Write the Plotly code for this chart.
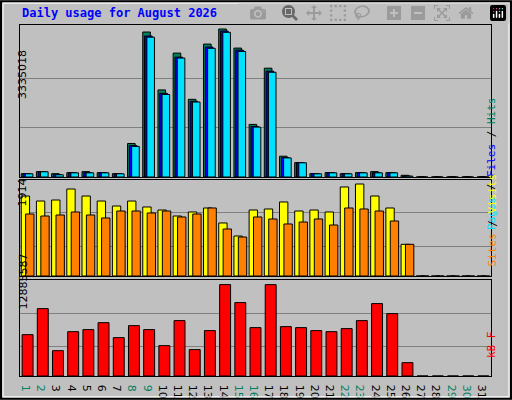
import plotly.graph_objects as go

days = list(range(1, 32))
hits = [75000, 121000, 75000, 98000, 121000, 98000, 75000, 755000, 3267000, 1962000,
        2792000, 1750000, 2995000, 3335018, 2905000, 1185000, 2452000, 468000, 324000, 75000,
        98000, 75000, 98000, 121000, 98000, 38000, 0, 0, 0, 0, 0]
files = [75000, 121000, 53000, 98000, 98000, 98000, 75000, 709000, 3177000, 1886000,
         2701000, 1705000, 2928000, 3290000, 2860000, 1139000, 2384000, 438000, 324000, 75000,
         98000, 75000, 98000, 98000, 98000, 23000, 0, 0, 0, 0, 0]
pages = [72000, 118000, 50000, 94000, 94000, 94000, 72000, 690000, 3150000, 1860000,
         2680000, 1690000, 2900000, 3260000, 2830000, 1125000, 2360000, 430000, 320000, 72000,
         94000, 72000, 94000, 94000, 94000, 20000, 0, 0, 0, 0, 0]
visits = [1664, 1560, 1581, 1810, 1664, 1560, 1456, 1560, 1436, 1373,
          1248, 1332, 1415, 1103, 832, 1373, 1394, 1540, 1352, 1373,
          1332, 1852, 1914, 1664, 1415, 659, 0, 0, 0, 0, 0]
sites = [1290, 1248, 1269, 1332, 1269, 1207, 1352, 1352, 1311, 1352,
         1228, 1290, 1415, 978, 811, 1228, 1186, 1082, 1123, 1186,
         1061, 1415, 1394, 1352, 1144, 659, 0, 0, 0, 0, 0]
kbytes = [5830000, 9500000, 3570000, 6250000, 6540000, 7520000, 5410000, 7100000, 6540000, 4280000,
          7810000, 3720000, 6400000, 12885587, 10350000, 6820000, 12880000, 6960000, 6820000, 6400000,
          6250000, 6680000, 7810000, 10210000, 8790000, 1880000, 0, 0, 0, 0, 0]
weekend = [1, 2, 8, 9, 15, 16, 22, 23, 29, 30]

max_hits, max_visits, max_kb = 3335018, 1914, 12885587

fig = go.Figure()
line = dict(color="black", width=1)

def bar(y, color, off, w, ax):
    fig.add_trace(go.Bar(x=days, y=y, marker=dict(color=color, line=line),
                         offset=off, width=w, xaxis="x" + ax, yaxis="y" + ax,
                         showlegend=False, hoverinfo="y"))

bar(hits, "#00805C", -0.42, 0.5, "")
bar(files, "#0000FF", -0.3, 0.5, "")
bar(pages, "#00E0FF", -0.15, 0.5, "")
bar(visits, "#FFFF00", -0.42, 0.55, "2")
bar(sites, "#FF8000", -0.13, 0.55, "2")
bar(kbytes, "#FF0000", -0.36, 0.72, "3")

xd = [20 / 512, 491 / 512]
ticktext = ["<span style='color:%s'>%d</span>" % ("#008060" if d in weekend else "black", d) for d in days]
xbase = dict(range=[0.5, 31.5], domain=xd, showline=True, linecolor="black", mirror=True,
             showgrid=False, zeroline=False, fixedrange=True)
ybase = dict(showline=True, linecolor="black", mirror=True, gridcolor="#808080",
             zeroline=False, showticklabels=False, ticks="")

fig.update_layout(
    width=512, height=400, margin=dict(l=0, r=0, t=0, b=0, autoexpand=False),
    paper_bgcolor="#C0C0C0", plot_bgcolor="#C0C0C0", barmode="overlay",
    font=dict(family="DejaVu Sans Mono", size=11, color="black"),
    xaxis=dict(xbase, anchor="y", showticklabels=False),
    xaxis2=dict(xbase, anchor="y2", showticklabels=False),
    xaxis3=dict(xbase, anchor="y3", tickvals=days, ticktext=ticktext, ticks="",
                tickfont=dict(family="DejaVu Sans", size=11)),
    yaxis=dict(ybase, domain=[0.5575, 0.9375], range=[0, max_hits * 152 / 148],
               tickvals=[max_hits / 3, max_hits * 2 / 3]),
    yaxis2=dict(ybase, domain=[0.31, 0.55], range=[0, max_visits * 96 / 92],
                tickvals=[max_visits * 0.326, max_visits * 0.685]),
    yaxis3=dict(ybase, domain=[0.06, 0.30], range=[0, max_kb * 96 / 91.4],
                tickvals=[max_kb * 0.32, max_kb * 0.68]),
)

ann = [
    dict(text="<b>Daily usage for August 2026</b>", x=20 / 512, y=1 - 13 / 400, xanchor="left",
         yanchor="middle", font=dict(color="#0000FF", size=12)),
    dict(text=str(max_hits), x=14 / 512, y=1 - 48 / 400, textangle=-90,
         font=dict(family="DejaVu Sans", size=11)),
    dict(text=str(max_visits), x=14 / 512, y=1 - 193 / 400, textangle=-90,
         font=dict(family="DejaVu Sans", size=11)),
    dict(text=str(max_kb), x=14 / 512, y=1 - 312 / 400, textangle=-90,
         font=dict(family="DejaVu Sans", size=11)),
    dict(text="<span style='color:#00E0FF'>Pages</span> / <span style='color:#0000FF'>Files</span> / <span style='color:#008060'>Hits</span>",
         x=500 / 512, y=1 - 95 / 400, textangle=-90),
    dict(text="<span style='color:#FF8000'>Sites</span> / <span style='color:#FFFF00'>Visits</span>",
         x=500 / 512, y=1 - 220 / 400, textangle=-90),
    dict(text="<span style='color:#FF0000'>kB F</span>", x=500 / 512, y=1 - 360 / 400, textangle=-90),
]
for a in ann:
    a.update(xref="paper", yref="paper", showarrow=False)
    fig.add_annotation(**a)

fig.add_shape(type="rect", xref="paper", yref="paper", x0=0.002, y0=0.003, x1=0.998, y1=0.997,
              line=dict(color="black", width=2))
fig.add_shape(type="rect", xref="paper", yref="paper", x0=0.006, y0=0.008, x1=0.994, y1=0.992,
              line=dict(color="white", width=1))

fig.write_html("out.html", post_script="document.body.style.margin='0';document.body.style.overflow='hidden';")
